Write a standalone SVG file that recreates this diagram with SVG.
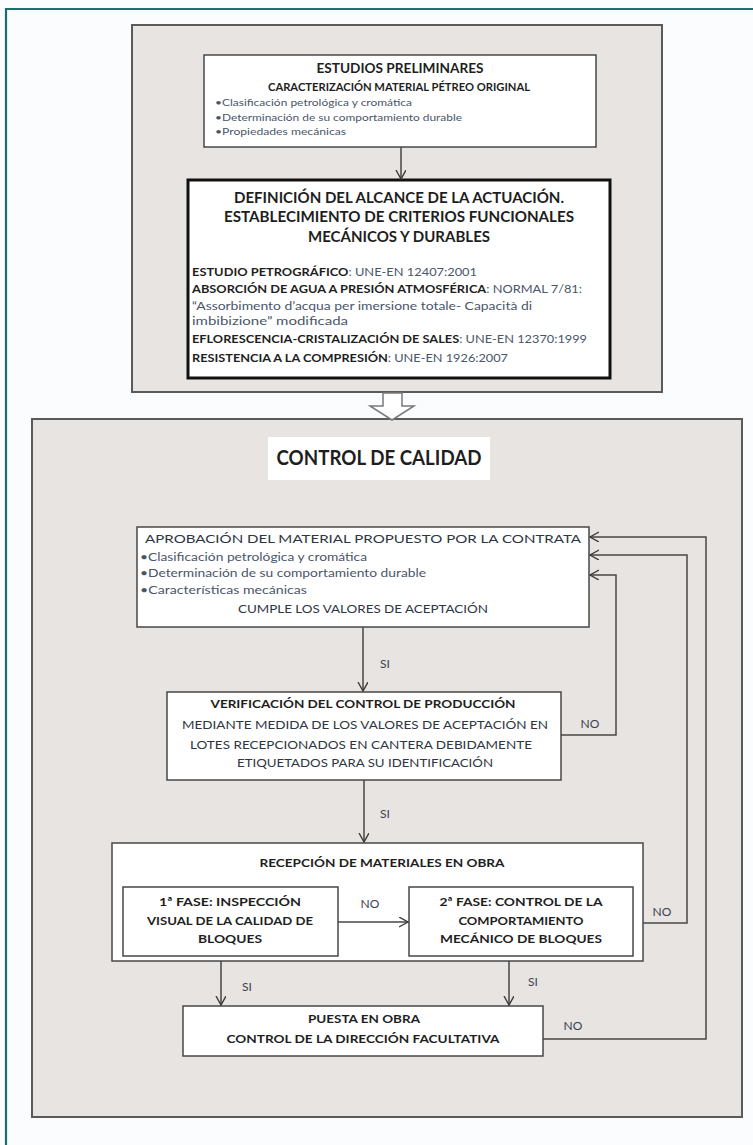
<svg xmlns="http://www.w3.org/2000/svg" width="753" height="1145" viewBox="0 0 753 1145">
<defs>
<marker id="arr" markerUnits="userSpaceOnUse" markerWidth="12" markerHeight="12" refX="9" refY="5" orient="auto">
<path d="M0,0 L9,5 L0,10" fill="none" stroke="#3c3c3c" stroke-width="1.4"/>
</marker>
<style>
.panel{fill:#e8e4e1;stroke:#5a5a5a;stroke-width:2}
.box{fill:#ffffff;stroke:#474747;stroke-width:1.5}
.thick{fill:#ffffff;stroke:#111;stroke-width:3}
.con{fill:none;stroke:#474747;stroke-width:1.5}
text{font-family:Lato,"Open Sans","Liberation Sans",sans-serif;fill:#2e3642}
.b{font-weight:bold;fill:#1e1e1e}
.r{fill:#4a5669}
.lbl{font-size:12px;fill:#3a4250}
</style>
</defs>
<rect width="753" height="1145" fill="#fbfcfd"/>
<path d="M6,1145 L6,9 L753,9" fill="none" stroke="#1b6e6e" stroke-width="2.2"/>

<g id="panel-top">
<rect class="panel" x="132" y="25" width="530" height="367"/>
</g>
<g id="panel-bottom">
<rect class="panel" x="32" y="419" width="710" height="698"/>
</g>
<g id="hollow-arrow">
<path d="M383,393 L402,393 L402,406 L414,406 L392,420 L370,406 L383,406 Z" fill="#ffffff" stroke="#7a7a7a" stroke-width="1.5"/>
</g>

<g id="estudios">
<rect class="box" x="204" y="55" width="392" height="92"/>
<text class="b" x="400" y="73" font-size="13.5" text-anchor="middle" textLength="167" lengthAdjust="spacingAndGlyphs">ESTUDIOS PRELIMINARES</text>
<text class="b" x="399" y="91" font-size="10.5" text-anchor="middle" textLength="262" lengthAdjust="spacingAndGlyphs">CARACTERIZACIÓN MATERIAL PÉTREO ORIGINAL</text>
<text class="r" x="215" y="106" font-size="9" textLength="197" lengthAdjust="spacingAndGlyphs">•Clasificación petrológica y cromática</text>
<text class="r" x="215" y="121" font-size="9" textLength="247" lengthAdjust="spacingAndGlyphs">•Determinación de su comportamiento durable</text>
<text class="r" x="215" y="135" font-size="9" textLength="131" lengthAdjust="spacingAndGlyphs">•Propiedades mecánicas</text>
</g>

<g id="definicion">
<rect class="thick" x="188" y="180" width="422" height="198"/>
<text class="b" x="399" y="203" font-size="15" text-anchor="middle" textLength="330" lengthAdjust="spacingAndGlyphs">DEFINICIÓN DEL ALCANCE DE LA ACTUACIÓN.</text>
<text class="b" x="399" y="222" font-size="15" text-anchor="middle" textLength="350" lengthAdjust="spacingAndGlyphs">ESTABLECIMIENTO DE CRITERIOS FUNCIONALES</text>
<text class="b" x="399" y="242" font-size="15" text-anchor="middle" textLength="182" lengthAdjust="spacingAndGlyphs">MECÁNICOS Y DURABLES</text>
<text x="192" y="276" font-size="11" textLength="285" lengthAdjust="spacingAndGlyphs"><tspan class="b">ESTUDIO PETROGRÁFICO</tspan><tspan class="r">: UNE-EN 12407:2001</tspan></text>
<text x="192" y="293" font-size="11" textLength="390" lengthAdjust="spacingAndGlyphs"><tspan class="b">ABSORCIÓN DE AGUA A PRESIÓN ATMOSFÉRICA</tspan><tspan class="r">: NORMAL 7/81:</tspan></text>
<text class="r" x="192" y="310" font-size="11" textLength="340" lengthAdjust="spacingAndGlyphs">“Assorbimento d’acqua per imersione totale- Capacità di</text>
<text class="r" x="192" y="325" font-size="11" textLength="156" lengthAdjust="spacingAndGlyphs">imbibizione”  modificada</text>
<text x="192" y="343" font-size="11" textLength="395" lengthAdjust="spacingAndGlyphs"><tspan class="b">EFLORESCENCIA-CRISTALIZACIÓN DE SALES</tspan><tspan class="r">: UNE-EN 12370:1999</tspan></text>
<text x="192" y="362" font-size="11" textLength="316" lengthAdjust="spacingAndGlyphs"><tspan class="b">RESISTENCIA A LA COMPRESIÓN</tspan><tspan class="r">: UNE-EN 1926:2007</tspan></text>
</g>

<g id="control-title">
<rect x="268" y="437" width="222" height="43" fill="#ffffff"/>
<text class="b" x="379" y="465" font-size="20" text-anchor="middle" textLength="205" lengthAdjust="spacingAndGlyphs">CONTROL DE CALIDAD</text>
</g>

<g id="aprobacion">
<rect class="box" x="137" y="527" width="452" height="100"/>
<text x="363" y="543" font-size="11" text-anchor="middle" textLength="436" lengthAdjust="spacingAndGlyphs">APROBACIÓN DEL MATERIAL PROPUESTO POR LA CONTRATA</text>
<text class="r" x="140" y="561" font-size="11" textLength="227" lengthAdjust="spacingAndGlyphs">•Clasificación petrológica y cromática</text>
<text class="r" x="140" y="577" font-size="11" textLength="286" lengthAdjust="spacingAndGlyphs">•Determinación de su comportamiento durable</text>
<text class="r" x="140" y="594" font-size="11" textLength="167" lengthAdjust="spacingAndGlyphs">•Características mecánicas</text>
<text x="363" y="613" font-size="11.5" text-anchor="middle" textLength="250" lengthAdjust="spacingAndGlyphs">CUMPLE LOS VALORES DE ACEPTACIÓN</text>
</g>

<g id="verificacion">
<rect class="box" x="167" y="692" width="394" height="88"/>
<text class="b" x="363" y="708" font-size="12" text-anchor="middle" textLength="305" lengthAdjust="spacingAndGlyphs">VERIFICACIÓN DEL CONTROL DE PRODUCCIÓN</text>
<text x="365" y="729" font-size="11.5" text-anchor="middle" textLength="366" lengthAdjust="spacingAndGlyphs">MEDIANTE  MEDIDA  DE LOS VALORES DE ACEPTACIÓN EN</text>
<text x="361" y="749" font-size="11.5" text-anchor="middle" textLength="342" lengthAdjust="spacingAndGlyphs">LOTES RECEPCIONADOS  EN CANTERA  DEBIDAMENTE</text>
<text x="365" y="767" font-size="11.5" text-anchor="middle" textLength="256" lengthAdjust="spacingAndGlyphs">ETIQUETADOS  PARA SU IDENTIFICACIÓN</text>
</g>

<g id="recepcion">
<rect class="box" x="112" y="843" width="531" height="118"/>
<text class="b" x="382" y="867" font-size="12" text-anchor="middle" textLength="245" lengthAdjust="spacingAndGlyphs">RECEPCIÓN DE MATERIALES EN OBRA</text>
</g>
<g id="fase1">
<rect class="box" x="123" y="887" width="215" height="69"/>
<text class="b" x="230" y="906" font-size="12" text-anchor="middle" textLength="142" lengthAdjust="spacingAndGlyphs">1ª FASE: INSPECCIÓN</text>
<text class="b" x="230" y="925" font-size="12" text-anchor="middle" textLength="166" lengthAdjust="spacingAndGlyphs">VISUAL DE LA CALIDAD DE</text>
<text class="b" x="230" y="943" font-size="12" text-anchor="middle" textLength="64" lengthAdjust="spacingAndGlyphs">BLOQUES</text>
</g>
<g id="fase2">
<rect class="box" x="409" y="887" width="224" height="69"/>
<text class="b" x="521" y="906" font-size="12" text-anchor="middle" textLength="163" lengthAdjust="spacingAndGlyphs">2ª FASE: CONTROL DE LA</text>
<text class="b" x="521" y="925" font-size="12" text-anchor="middle" textLength="125" lengthAdjust="spacingAndGlyphs">COMPORTAMIENTO</text>
<text class="b" x="521" y="943" font-size="12" text-anchor="middle" textLength="162" lengthAdjust="spacingAndGlyphs">MECÁNICO DE BLOQUES</text>
</g>

<g id="puesta">
<rect class="box" x="183" y="1006" width="360" height="50"/>
<text class="b" x="364" y="1023" font-size="12" text-anchor="middle" textLength="112" lengthAdjust="spacingAndGlyphs">PUESTA EN OBRA</text>
<text class="b" x="363" y="1043" font-size="12" text-anchor="middle" textLength="273" lengthAdjust="spacingAndGlyphs">CONTROL DE LA DIRECCIÓN FACULTATIVA</text>
</g>

<g id="connectors">
<path class="con" d="M401,147 L401,179" marker-end="url(#arr)"/>
<path class="con" d="M363,627 L363,691" marker-end="url(#arr)"/>
<path class="con" d="M364,780 L364,842" marker-end="url(#arr)"/>
<path class="con" d="M338,922 L408,922" marker-end="url(#arr)"/>
<path class="con" d="M221,961 L221,1005" marker-end="url(#arr)"/>
<path class="con" d="M509,961 L509,1005" marker-end="url(#arr)"/>
<path class="con" d="M561,735 L616,735 L616,575 L590,575" marker-end="url(#arr)"/>
<path class="con" d="M643,923 L687,923 L687,555 L590,555" marker-end="url(#arr)"/>
<path class="con" d="M543,1039 L706,1039 L706,537 L590,537" marker-end="url(#arr)"/>
<text class="lbl" x="385" y="668" text-anchor="middle">SI</text>
<text class="lbl" x="385" y="818" text-anchor="middle">SI</text>
<text class="lbl" x="590" y="728" text-anchor="middle">NO</text>
<text class="lbl" x="370" y="908" text-anchor="middle">NO</text>
<text class="lbl" x="662" y="916" text-anchor="middle">NO</text>
<text class="lbl" x="247" y="991" text-anchor="middle">SI</text>
<text class="lbl" x="533" y="986" text-anchor="middle">SI</text>
<text class="lbl" x="573" y="1030" text-anchor="middle">NO</text>
</g>
</svg>
